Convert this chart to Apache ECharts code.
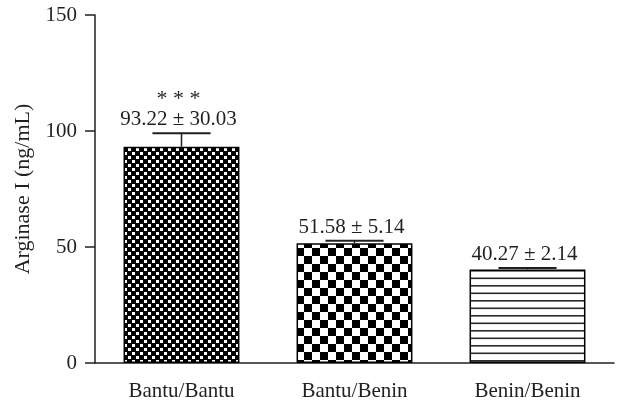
<!DOCTYPE html>
<html>
<head>
<meta charset="utf-8">
<script src="https://cdn.jsdelivr.net/npm/echarts@6/dist/echarts.min.js"></script>
<style>
  html, body { margin: 0; padding: 0; background: #fff; }
  #chart { width: 618px; height: 404px; }
</style>
</head>
<body>
<div id="chart"></div>
<script>
// Arginase I concentration by genotype group
const categories = ['Bantu/Bantu', 'Bantu/Benin', 'Benin/Benin'];
const means = [93.22, 51.58, 40.27];
const sds = [30.03, 5.14, 2.14];
// half-length of the drawn error whiskers
const whiskers = [5.8, 1.1, 0.7];
const significance = ['* * *', '', ''];
const yMin = 0, yMax = 150, yStep = 50;

const FONT = '"Liberation Serif", "Times New Roman", serif';
const INK = '#231f20';

// fill patterns for the three bars
function checker(cell, hole) {
  const c = document.createElement('canvas');
  c.width = cell * 2; c.height = cell * 2;
  const g = c.getContext('2d');
  g.fillStyle = '#000'; g.fillRect(0, 0, c.width, c.height);
  g.fillStyle = '#fff';
  g.fillRect(cell, 0, hole, hole);
  g.fillRect(0, cell, hole, hole);
  return c;
}
function hlines(gap, thick) {
  const c = document.createElement('canvas');
  c.width = 8; c.height = gap * 2;
  const g = c.getContext('2d');
  g.fillStyle = '#fff'; g.fillRect(0, 0, c.width, c.height);
  g.fillStyle = '#2a2a2a';
  g.fillRect(0, 0, c.width, thick);
  g.fillRect(0, gap, c.width, thick);
  return c;
}
const patterns = [checker(4, 3), checker(8, 8), hlines(7.5, 1.6)];

const chart = echarts.init(document.getElementById('chart'), null, { renderer: 'canvas' });

chart.setOption({
  animation: false,
  backgroundColor: '#fff',
  grid: { left: 95, right: 4, top: 15, bottom: 41 },
  xAxis: {
    type: 'category',
    data: categories,
    axisLine: { lineStyle: { color: INK, width: 1.5 } },
    axisTick: { alignWithLabel: true, length: 10, lineStyle: { color: INK, width: 1.5 } },
    axisLabel: { color: INK, fontFamily: FONT, fontSize: 21, margin: 18 }
  },
  yAxis: {
    type: 'value',
    min: yMin, max: yMax, interval: yStep,
    name: 'Arginase I (ng/mL)',
    nameLocation: 'middle',
    nameGap: 58,
    nameTextStyle: { color: INK, fontFamily: FONT, fontSize: 22 },
    axisLine: { show: true, lineStyle: { color: INK, width: 1.5 } },
    axisTick: { show: true, length: 10, lineStyle: { color: INK, width: 1.5 } },
    axisLabel: { color: INK, fontFamily: FONT, fontSize: 21, margin: 18 },
    splitLine: { show: false }
  },
  series: [
    {
      type: 'bar',
      barWidth: '67%',
      data: means.map((v, i) => ({
        value: v,
        itemStyle: {
          color: { image: patterns[i], repeat: 'repeat' },
          borderColor: '#000',
          borderWidth: 1.5
        }
      }))
    },
    {
      type: 'custom',
      data: means.map((v, i) => [i, v, whiskers[i]]),
      z: 5,
      renderItem: function (params, api) {
        const i = params.dataIndex;
        const idx = api.value(0), m = api.value(1), e = api.value(2);
        const base = api.coord([idx, m]);
        const top = api.coord([idx, m + e]);
        const half = api.size([1, 0])[0] * 0.168;
        const children = [
          { type: 'line', shape: { x1: base[0], y1: base[1], x2: top[0], y2: top[1] },
            style: { stroke: INK, lineWidth: 1.5 } },
          { type: 'line', shape: { x1: top[0] - half, y1: top[1], x2: top[0] + half, y2: top[1] },
            style: { stroke: INK, lineWidth: 2 } },
          { type: 'text', x: top[0] - 3, y: top[1] - 3,
            style: { text: means[i].toFixed(2) + ' \u00b1 ' + sds[i].toFixed(2),
              fontFamily: FONT, fontSize: 21, fill: INK, align: 'center', verticalAlign: 'bottom' } }
        ];
        if (significance[i]) {
          children.push({ type: 'text', x: top[0] - 3, y: top[1] - 23,
            style: { text: significance[i], fontFamily: FONT, fontSize: 22, fill: INK,
              align: 'center', verticalAlign: 'bottom' } });
        }
        return { type: 'group', children: children };
      }
    }
  ]
});
</script>
</body>
</html>
